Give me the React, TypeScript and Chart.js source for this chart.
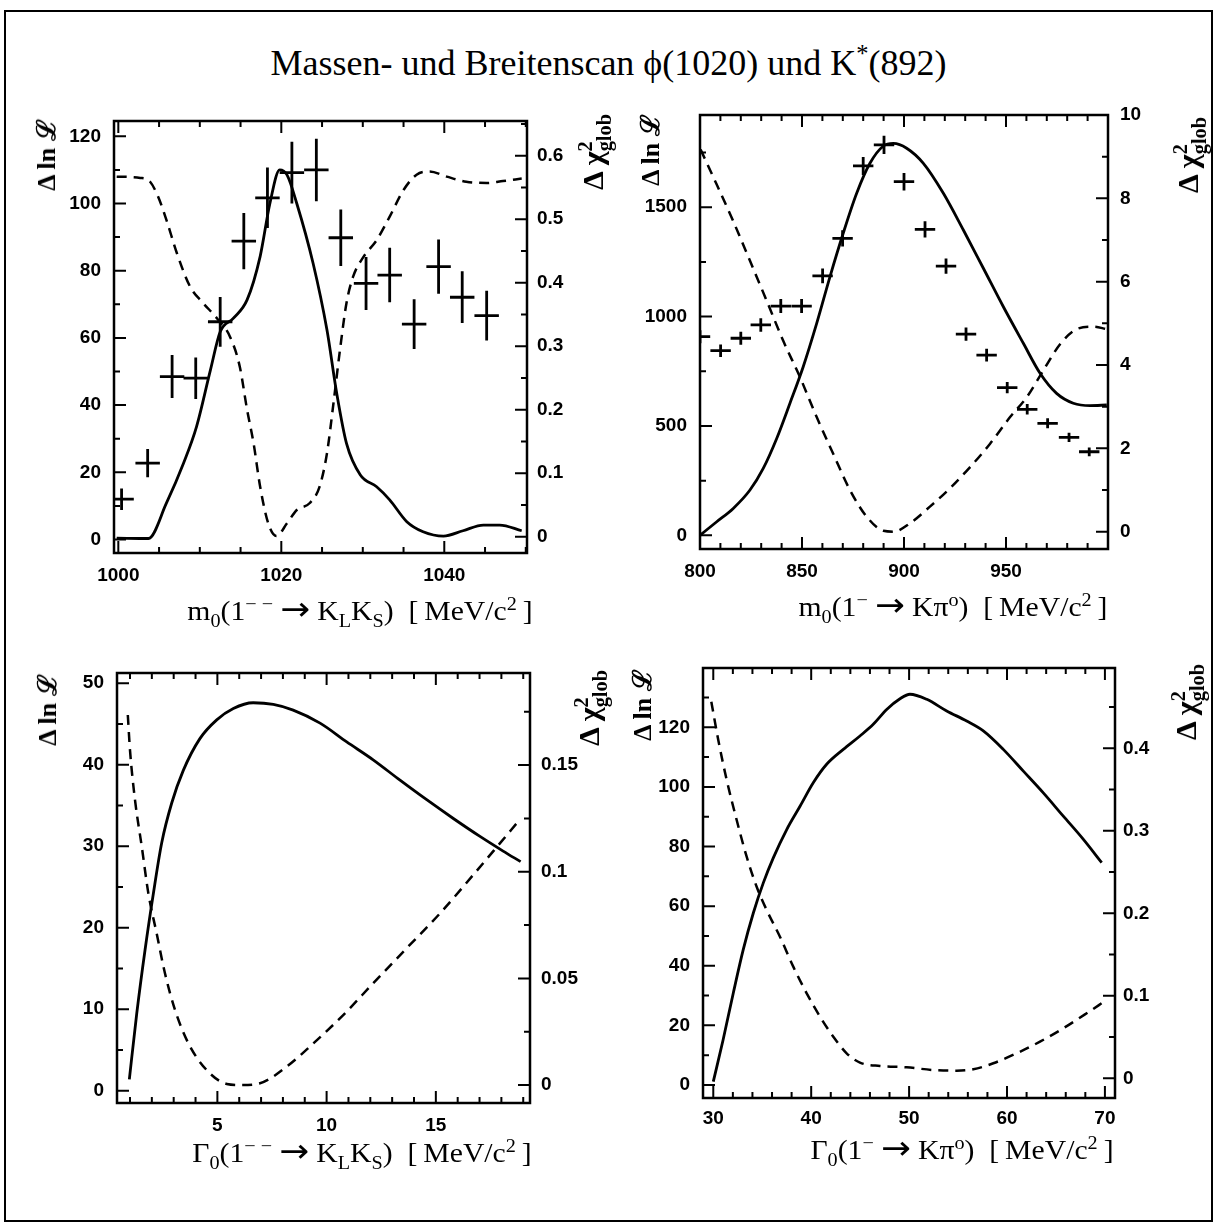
import React, { useEffect, useRef } from "react";
import { Chart, registerables } from "chart.js";
Chart.register(...registerables);

// ================= Panel 1: m0(1-- -> KL KS) =================
const p1SolidX = [999.8, 1003.7, 1005.9, 1008.0, 1009.6, 1011.3, 1012.5, 1014.1, 1015.8, 1017.4, 1018.6, 1019.8, 1020.7, 1021.9, 1023.9, 1025.6, 1026.8, 1028.0, 1029.7, 1031.7, 1033.3, 1035.4, 1037.4, 1039.9, 1042.3, 1044.8, 1046.8, 1049.5];
const p1SolidY = [0.4, 0.3, 10.8, 22.7, 33.6, 50.4, 61.8, 65.8, 71.3, 84.2, 100, 110, 108.5, 100, 82.2, 62.4, 43.5, 28.6, 19.2, 15.7, 11.8, 5.3, 2.3, 1.0, 2.6, 4.3, 4.3, 2.6];
const p1DashX = [999.8, 1002.7, 1003.9, 1004.9, 1005.9, 1007.2, 1008.8, 1010.4, 1012.1, 1013.7, 1014.9, 1015.8, 1016.6, 1017.4, 1018.4, 1019.4, 1020.7, 1021.9, 1023.5, 1024.7, 1025.6, 1026.4, 1027.2, 1028.0, 1028.8, 1030.1, 1031.7, 1033.3, 1035.0, 1036.6, 1038.2, 1040.3, 1042.7, 1045.2, 1047.2, 1049.5];
const p1DashY = [0.567, 0.565, 0.559, 0.535, 0.499, 0.446, 0.394, 0.368, 0.344, 0.315, 0.268, 0.2, 0.147, 0.079, 0.021, 0.001, 0.021, 0.042, 0.053, 0.079, 0.131, 0.21, 0.294, 0.368, 0.409, 0.441, 0.467, 0.504, 0.546, 0.57, 0.575, 0.567, 0.559, 0.557, 0.56, 0.564];
const p1PtsX = [1000.4, 1003.6, 1006.6, 1009.5, 1012.5, 1015.4, 1018.3, 1021.3, 1024.3, 1027.3, 1030.4, 1033.3, 1036.3, 1039.3, 1042.2, 1045.2];
const p1PtsY = [12.0, 22.7, 48.5, 48.0, 64.8, 88.8, 101.7, 109.2, 110.0, 89.8, 76.2, 78.7, 64.1, 81.2, 72.1, 66.6];
const p1PtsEX = [1.5, 1.5, 1.5, 1.5, 1.5, 1.5, 1.5, 1.5, 1.5, 1.5, 1.5, 1.5, 1.5, 1.5, 1.5, 1.5];
const p1PtsEY = [3.2, 4.2, 6.4, 6.2, 7.4, 8.4, 9.0, 9.2, 9.3, 8.4, 7.9, 8.1, 7.4, 8.1, 7.7, 7.4];
const p1XTicks = [1000, 1020, 1040];
const p1LTicks = [0, 20, 40, 60, 80, 100, 120];
const p1RTicks = [0, 0.1, 0.2, 0.3, 0.4, 0.5, 0.6];

// ================= Panel 2: m0(1- -> K pi0) =================
const p2SolidX = [800, 808.2, 816.3, 824.5, 831, 837.6, 844.1, 850.6, 857.2, 863.7, 870.2, 876.8, 883.3, 889.9, 894.8, 901.3, 909.5, 919.3, 929.1, 938.9, 948.7, 958.5, 966.7, 974.8, 983, 991.2, 999.4];
const p2SolidY = [0, 62, 123, 207, 306, 443, 604, 771, 969, 1182, 1381, 1564, 1701, 1780, 1792, 1770, 1701, 1564, 1396, 1221, 1045, 878, 741, 649, 604, 593, 596];
const p2DashX = [800.3, 808.2, 816.3, 824.5, 832.7, 840.8, 849, 857.2, 865.3, 873.5, 881.7, 889.9, 894.8, 902.9, 912.7, 922.5, 932.4, 942.2, 952, 960.2, 968.3, 976.5, 984.6, 992.8, 999.4];
const p2DashY = [9.17, 8.33, 7.45, 6.5, 5.54, 4.58, 3.71, 2.75, 1.87, 1.0, 0.36, 0.02, 0.0, 0.2, 0.6, 1.04, 1.55, 2.11, 2.75, 3.23, 3.87, 4.5, 4.86, 4.92, 4.86];
const p2PtsX = [800, 810.1, 820, 829.8, 839.6, 849.8, 860.1, 869.9, 880, 890.2, 900, 910.3, 920.6, 930.4, 940.5, 950.6, 960.4, 970.4, 980.9, 990.8];
const p2PtsY = [908, 844, 901, 962, 1048, 1048, 1186, 1358, 1689, 1785, 1617, 1399, 1231, 920, 824, 675, 576, 512, 448, 382];
const p2PtsEX = [5, 5, 5, 5, 5, 5, 5, 5, 5, 5, 5, 5, 5, 5, 5, 5, 5, 5, 5, 5];
const p2PtsEY = [30, 29, 30, 31, 32, 32, 34, 37, 41, 42, 40, 37, 35, 30, 29, 26, 24, 23, 21, 20];
const p2XTicks = [800, 850, 900, 950];
const p2LTicks = [0, 500, 1000, 1500];
const p2RTicks = [0, 2, 4, 6, 8, 10];

// ================= Panel 3: Gamma0(1-- -> KL KS) =================
const p3SolidX = [0.97, 1.31, 1.69, 2.07, 2.45, 2.91, 3.44, 4.2, 4.97, 5.73, 6.64, 7.56, 8.47, 9.7, 10.92, 12.13, 13.36, 14.58, 15.8, 17.02, 18.08, 18.88];
const p3SolidY = [1.4, 9.5, 17.3, 24.2, 30.4, 35.3, 39.3, 43.2, 45.5, 46.9, 47.6, 47.4, 46.7, 45.1, 42.8, 40.6, 38.1, 35.7, 33.4, 31.2, 29.4, 28.1];
const p3DashX = [0.9, 1.0, 1.23, 1.54, 1.84, 2.22, 2.6, 3.06, 3.67, 4.51, 5.43, 6.11, 6.95, 8.17, 9.39, 10.76, 12.13, 13.66, 15.19, 16.71, 17.93, 18.7];
const p3DashY = [0.1735, 0.157, 0.1336, 0.1117, 0.0899, 0.0711, 0.0524, 0.0352, 0.0196, 0.007, 0.0005, 0.0, 0.0008, 0.0086, 0.0195, 0.0328, 0.0477, 0.0641, 0.0805, 0.0985, 0.1133, 0.1227];
const p3XTicks = [5, 10, 15];
const p3LTicks = [0, 10, 20, 30, 40, 50];
const p3RTicks = [0, 0.05, 0.1, 0.15];

// ================= Panel 4: Gamma0(1- -> K pi0) =================
const p4SolidX = [30.0, 31.0, 32.04, 33.06, 34.09, 35.11, 36.13, 37.5, 38.86, 40.21, 41.58, 43.28, 44.98, 46.34, 47.71, 49.07, 50.09, 51.8, 53.84, 55.88, 57.58, 59.62, 61.67, 63.71, 65.75, 67.8, 69.67];
const p4SolidY = [1.1, 15.1, 30.8, 45.4, 57.7, 67.8, 76.2, 85.7, 93.5, 101.4, 107.6, 112.6, 117.1, 121, 126, 129.6, 131.1, 129.4, 125.5, 122.1, 118.8, 112.6, 105.3, 98.0, 90.2, 82.4, 74.6];
const p4DashX = [29.8, 30.51, 31.37, 32.39, 33.41, 34.43, 35.45, 36.81, 38.17, 39.54, 40.9, 42.26, 43.62, 44.98, 47.03, 49.75, 52.47, 54.86, 56.56, 58.6, 60.99, 63.37, 65.75, 68.14, 70.01];
const p4DashY = [0.4565, 0.41, 0.3616, 0.313, 0.2686, 0.2322, 0.204, 0.1716, 0.1353, 0.103, 0.0747, 0.0504, 0.0303, 0.019, 0.0149, 0.0133, 0.01, 0.0092, 0.0109, 0.0182, 0.0303, 0.0444, 0.0606, 0.0788, 0.0937];
const p4XTicks = [30, 40, 50, 60, 70];
const p4LTicks = [0, 20, 40, 60, 80, 100, 120];
const p4RTicks = [0, 0.1, 0.2, 0.3, 0.4];

// ================= layout / style =================
const ML = 80, MR = 80, MT = 40, MB = 45;
const MAJ = 12, MINL = 6;
const serif = "'Liberation Serif', 'Times New Roman', 'DejaVu Serif', serif";
const tickFont = { family: "'Liberation Sans', Arial, Helvetica, sans-serif", size: 19, weight: "bold" as const };

const zip = (xs: number[], ys: number[]) => xs.map((x, i) => ({ x, y: ys[i] }));

const frameTicksPlugin = {
  id: "frameTicks",
  afterDraw(chart: any, _a: any, opts: any) {
    const { ctx, chartArea: a, scales } = chart;
    const sx = scales.x, sl = scales.yL, sr = scales.yR;
    const each = (s: any, step: number, fn: (v: number) => void) => {
      const k0 = Math.ceil(s.min / step - 1e-9);
      for (let k = k0; k * step <= s.max + 1e-9; k++) fn(k * step);
    };
    const isMaj = (v: number, m: number) => Math.abs(v / m - Math.round(v / m)) < 1e-6;
    ctx.save();
    ctx.strokeStyle = "#000";
    ctx.lineWidth = 2;
    ctx.beginPath();
    each(sx, opts.xMinor, (v) => {
      const p = sx.getPixelForValue(v);
      const len = isMaj(v, opts.xMajor) ? MAJ : MINL;
      ctx.moveTo(p, a.bottom); ctx.lineTo(p, a.bottom - len);
      ctx.moveTo(p, a.top); ctx.lineTo(p, a.top + len);
    });
    each(sl, opts.lMinor, (v) => {
      const p = sl.getPixelForValue(v);
      const len = isMaj(v, opts.lMajor) ? MAJ : MINL;
      ctx.moveTo(a.left, p); ctx.lineTo(a.left + len, p);
    });
    each(sr, opts.rMinor, (v) => {
      const p = sr.getPixelForValue(v);
      const len = isMaj(v, opts.rMajor) ? MAJ : MINL;
      ctx.moveTo(a.right, p); ctx.lineTo(a.right - len, p);
    });
    ctx.stroke();
    ctx.lineWidth = 2.5;
    ctx.strokeRect(a.left, a.top, a.right - a.left, a.bottom - a.top);
    ctx.restore();
  },
};

const crossPlugin = {
  id: "crosses",
  afterDatasetsDraw(chart: any) {
    const { ctx, chartArea: a } = chart;
    ctx.save();
    ctx.beginPath();
    ctx.rect(a.left, a.top, a.right - a.left, a.bottom - a.top);
    ctx.clip();
    ctx.strokeStyle = "#000";
    ctx.lineWidth = 2.8;
    chart.data.datasets.forEach((ds: any) => {
      if (!ds.errX) return;
      const xs = chart.scales.x, ys = chart.scales[ds.yAxisID];
      ds.data.forEach((pt: any, j: number) => {
        const px = xs.getPixelForValue(pt.x), py = ys.getPixelForValue(pt.y);
        const x0 = xs.getPixelForValue(pt.x - ds.errX[j]), x1 = xs.getPixelForValue(pt.x + ds.errX[j]);
        const y0 = ys.getPixelForValue(pt.y - ds.errY[j]), y1 = ys.getPixelForValue(pt.y + ds.errY[j]);
        ctx.beginPath();
        ctx.moveTo(x0, py); ctx.lineTo(x1, py);
        ctx.moveTo(px, y0); ctx.lineTo(px, y1);
        ctx.stroke();
      });
    });
    ctx.restore();
  },
};

type Rng = { min: number; max: number; ticks: number[]; major: number; minor: number; pad: number };
type PanelCfg = {
  frame: { l: number; t: number; r: number; b: number };
  x: Rng; yL: Rng; yR: Rng;
  solid: { x: number[]; y: number[] };
  dashed: { x: number[]; y: number[] };
  pts?: { x: number[]; y: number[]; ex: number[]; ey: number[] };
};

function axis(pos: string, r: Rng, size: number) {
  return {
    type: "linear",
    position: pos,
    min: r.min,
    max: r.max,
    grid: { display: false, drawTicks: false },
    border: { display: false },
    afterBuildTicks: (s: any) => { s.ticks = r.ticks.map((v) => ({ value: v })); },
    afterFit: (s: any) => { if (pos === "bottom") s.height = size; else s.width = size; },
    ticks: { autoSkip: false, maxRotation: 0, minRotation: 0, padding: r.pad, color: "#000", font: tickFont, callback: (v: any) => String(v) },
  };
}

function Panel({ cfg }: { cfg: PanelCfg }) {
  const ref = useRef<HTMLCanvasElement>(null);
  const { l, t, r, b } = cfg.frame;
  const W = r - l + ML + MR, H = b - t + MT + MB;
  useEffect(() => {
    const datasets: any[] = [
      { data: zip(cfg.solid.x, cfg.solid.y), yAxisID: "yL", borderColor: "#000", borderWidth: 2.8, pointRadius: 0, fill: false, cubicInterpolationMode: "monotone" },
      { data: zip(cfg.dashed.x, cfg.dashed.y), yAxisID: "yR", borderColor: "#000", borderWidth: 2.5, borderDash: [10, 7], pointRadius: 0, fill: false, cubicInterpolationMode: "monotone" },
    ];
    if (cfg.pts) {
      datasets.push({ data: zip(cfg.pts.x, cfg.pts.y), yAxisID: "yL", showLine: false, pointRadius: 0, borderColor: "#000", errX: cfg.pts.ex, errY: cfg.pts.ey });
    }
    const chart = new Chart(ref.current as HTMLCanvasElement, {
      type: "line",
      data: { datasets },
      options: {
        responsive: false,
        animation: false,
        devicePixelRatio: 1,
        layout: { padding: { top: MT, left: 0, right: 0, bottom: 0 } },
        plugins: {
          legend: { display: false },
          tooltip: { enabled: false },
          frameTicks: { xMajor: cfg.x.major, xMinor: cfg.x.minor, lMajor: cfg.yL.major, lMinor: cfg.yL.minor, rMajor: cfg.yR.major, rMinor: cfg.yR.minor },
        } as any,
        scales: {
          x: axis("bottom", cfg.x, MB),
          yL: axis("left", cfg.yL, ML),
          yR: axis("right", cfg.yR, MR),
        } as any,
      },
      plugins: [crossPlugin, frameTicksPlugin],
    } as any);
    return () => chart.destroy();
  }, []);
  return <canvas ref={ref} width={W} height={H} style={{ position: "absolute", left: l - ML, top: t - MT, width: W, height: H }} />;
}

const panels: PanelCfg[] = [
  {
    frame: { l: 114, t: 121, r: 527, b: 553 },
    x: { min: 999.47, max: 1050.15, ticks: p1XTicks, major: 20, minor: 5, pad: 11 },
    yL: { min: -4.02, max: 124.55, ticks: p1LTicks, major: 20, minor: 10, pad: 13 },
    yR: { min: -0.0257, max: 0.6546, ticks: p1RTicks, major: 0.1, minor: 0.05, pad: 10 },
    solid: { x: p1SolidX, y: p1SolidY },
    dashed: { x: p1DashX, y: p1DashY },
    pts: { x: p1PtsX, y: p1PtsY, ex: p1PtsEX, ey: p1PtsEY },
  },
  {
    frame: { l: 700, t: 115, r: 1108, b: 549 },
    x: { min: 800, max: 1000, ticks: p2XTicks, major: 50, minor: 10, pad: 11 },
    yL: { min: -62.6, max: 1921.8, ticks: p2LTicks, major: 500, minor: 250, pad: 13 },
    yR: { min: -0.416, max: 10, ticks: p2RTicks, major: 2, minor: 1, pad: 12 },
    solid: { x: p2SolidX, y: p2SolidY },
    dashed: { x: p2DashX, y: p2DashY },
    pts: { x: p2PtsX, y: p2PtsY, ex: p2PtsEX, ey: p2PtsEY },
  },
  {
    frame: { l: 117, t: 673, r: 530, b: 1103 },
    x: { min: 0.405, max: 19.31, ticks: p3XTicks, major: 5, minor: 1, pad: 11 },
    yL: { min: -1.51, max: 51.25, ticks: p3LTicks, major: 10, minor: 5, pad: 13 },
    yR: { min: -0.00844, max: 0.1932, ticks: p3RTicks, major: 0.05, minor: 0.025, pad: 11 },
    solid: { x: p3SolidX, y: p3SolidY },
    dashed: { x: p3DashX, y: p3DashY },
  },
  {
    frame: { l: 703, t: 668, r: 1115, b: 1098 },
    x: { min: 28.95, max: 71.03, ticks: p4XTicks, major: 10, minor: 2, pad: 9 },
    yL: { min: -4.37, max: 139.9, ticks: p4LTicks, major: 20, minor: 10, pad: 13 },
    yR: { min: -0.0239, max: 0.4973, ticks: p4RTicks, major: 0.1, minor: 0.05, pad: 8 },
    solid: { x: p4SolidX, y: p4SolidY },
    dashed: { x: p4DashX, y: p4DashY },
  },
];

const Sub = ({ children }: { children: React.ReactNode }) => (
  <span style={{ fontSize: "0.68em", verticalAlign: "-0.38em", lineHeight: 0 }}>{children}</span>
);
const Sup = ({ children, style }: { children: React.ReactNode; style?: React.CSSProperties }) => (
  <span style={{ fontSize: "0.68em", verticalAlign: "0.55em", lineHeight: 0, ...style }}>{children}</span>
);
const Arrow = () => (
  <span style={{ fontFamily: "'DejaVu Sans', sans-serif", fontSize: "1.2em", lineHeight: 0 }}>{"\u2009\u2192\u2009"}</span>
);

function XTitle({ cx, top, children }: { cx: number; top: number; children: React.ReactNode }) {
  return (
    <div style={{ position: "absolute", left: cx, top, transform: "translateX(-50%) scaleX(1.1)", whiteSpace: "nowrap", font: `27px ${serif}`, lineHeight: "30px", color: "#000" }}>
      {children}
    </div>
  );
}
function YTitle({ cx, cy, size, children }: { cx: number; cy: number; size: number; children: React.ReactNode }) {
  return (
    <div style={{ position: "absolute", left: cx, top: cy, transform: "translate(-50%,-50%) rotate(-90deg)", whiteSpace: "nowrap", font: `bold ${size}px ${serif}`, lineHeight: `${size + 4}px`, color: "#000" }}>
      {children}
    </div>
  );
}
const LnL = () => <>{"\u0394 ln \u2112"}</>;
const Chi = () => (
  <>
    {"\u0394\u2009\u03c7"}
    <Sup>2</Sup>
    <span style={{ fontSize: "0.68em", verticalAlign: "-0.38em", lineHeight: 0, marginLeft: "-0.5em" }}>glob</span>
  </>
);
const sp = "\u2009";

export default function App() {
  return (
    <div style={{ position: "absolute", left: 0, top: 0, width: 1215, height: 1224, background: "#fff", overflow: "hidden" }}>
      <div style={{ position: "absolute", left: 4, top: 10, width: 1209, height: 1212, border: "2px solid #000", boxSizing: "border-box" }} />
      <div style={{ position: "absolute", left: 1, width: 1215, top: 43, textAlign: "center", font: `36px ${serif}`, lineHeight: "40px", whiteSpace: "nowrap", color: "#000" }}>
        {"Massen- und Breitenscan \u03d5(1020) und K"}
        <Sup>*</Sup>
        {"(892)"}
      </div>
      {panels.map((c, i) => (
        <Panel key={i} cfg={c} />
      ))}
      <XTitle cx={360} top={596}>
        m<Sub>0</Sub>(1<Sup>{"\u2212 \u2212"}</Sup><Arrow />K<Sub>L</Sub>K<Sub>S</Sub>){"\u00a0\u00a0["}{sp}MeV/c<Sup>2</Sup>{sp}]
      </XTitle>
      <XTitle cx={953} top={592}>
        m<Sub>0</Sub>(1<Sup>{"\u2212"}</Sup><Arrow />K{"\u03c0"}<Sup>o</Sup>){"\u00a0\u00a0["}{sp}MeV/c<Sup>2</Sup>{sp}]
      </XTitle>
      <XTitle cx={362} top={1138}>
        {"\u0393"}<Sub>0</Sub>(1<Sup>{"\u2212 \u2212"}</Sup><Arrow />K<Sub>L</Sub>K<Sub>S</Sub>){"\u00a0\u00a0["}{sp}MeV/c<Sup>2</Sup>{sp}]
      </XTitle>
      <XTitle cx={962} top={1135}>
        {"\u0393"}<Sub>0</Sub>(1<Sup>{"\u2212"}</Sup><Arrow />K{"\u03c0"}<Sup>o</Sup>){"\u00a0\u00a0["}{sp}MeV/c<Sup>2</Sup>{sp}]
      </XTitle>
      <YTitle cx={47} cy={155} size={26}><LnL /></YTitle>
      <YTitle cx={651} cy={150} size={26}><LnL /></YTitle>
      <YTitle cx={48} cy={710} size={26}><LnL /></YTitle>
      <YTitle cx={643} cy={705} size={26}><LnL /></YTitle>
      <YTitle cx={593} cy={152} size={30}><Chi /></YTitle>
      <YTitle cx={1188} cy={155} size={30}><Chi /></YTitle>
      <YTitle cx={589} cy={708} size={30}><Chi /></YTitle>
      <YTitle cx={1186} cy={702} size={30}><Chi /></YTitle>
    </div>
  );
}
